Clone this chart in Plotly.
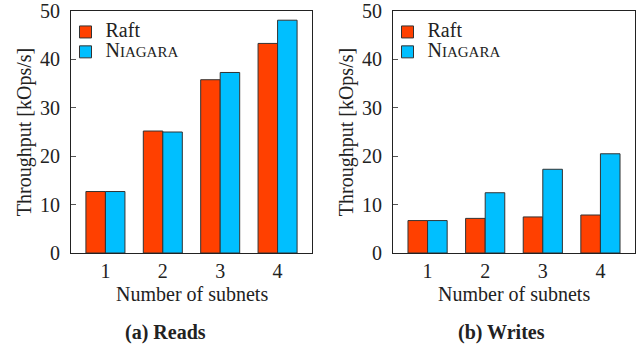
import plotly.graph_objects as go

subnets = [1, 2, 3, 4]
tick_labels = ["1", "2", "3", "4"]
reads_raft = [12.7, 25.2, 35.8, 43.3]
reads_niagara = [12.7, 25.0, 37.3, 48.1]
writes_raft = [6.7, 7.15, 7.45, 7.85]
writes_niagara = [6.7, 12.45, 17.3, 20.5]
series_names = ["<span style='font-size:20px'>Raft</span>",
                "<span style='font-size:20px'>N</span><span style='font-size:15px'>IAGARA</span>"]

RAFT_C = "#FF4000"
NIAG_C = "#00BFFF"
FONT = "Liberation Serif"
TXT = "#222222"
W, H = 641, 347

fig = go.Figure()

def add(x, y, name, color, xa, ya, legend):
    fig.add_trace(go.Bar(
        x=x, y=y, name=name, xaxis=xa, yaxis=ya, legend=legend,
        marker=dict(color=color, line=dict(color="#333333", width=1)),
        showlegend=True,
    ))

add(subnets, reads_raft, series_names[0], RAFT_C, "x", "y", "legend")
add(subnets, reads_niagara, series_names[1], NIAG_C, "x", "y", "legend")
add(subnets, writes_raft, series_names[0], RAFT_C, "x2", "y2", "legend2")
add(subnets, writes_niagara, series_names[1], NIAG_C, "x2", "y2", "legend2")

top = 1 - 11 / H
bot = 1 - 253 / H
axis_common = dict(showline=True, linecolor="#222", linewidth=1, mirror=True,
                   showgrid=False, zeroline=False, automargin=False)
xcommon = dict(axis_common, range=[0.4, 4.6], tickvals=subnets, ticktext=tick_labels,
               ticks="", tickfont=dict(size=20, color=TXT), ticklabelstandoff=0)
ycommon = dict(axis_common, range=[0, 50], dtick=10, ticks="inside", ticklen=5,
               tickcolor="#555", tickfont=dict(size=20, color=TXT), ticklabelstandoff=6,
               title=dict(text="Throughput [kOps/s]", font=dict(size=20, color=TXT), standoff=3))

legend_common = dict(font=dict(family=FONT, size=13, color=TXT), bgcolor="rgba(0,0,0,0)",
                     xanchor="left", yanchor="top", tracegroupgap=0, itemwidth=30)

xtitle_y = (253 - 294) / (253 - 11)

fig.update_layout(
    template="none",
    width=W, height=H,
    margin=dict(l=0, r=0, t=0, b=0, pad=0),
    paper_bgcolor="white", plot_bgcolor="white",
    font=dict(family=FONT, color=TXT),
    barmode="group", bargap=0.32, bargroupgap=0,
    xaxis=dict(xcommon, domain=[71 / W, 312 / W], anchor="y"),
    yaxis=dict(ycommon, domain=[bot, top], anchor="x"),
    xaxis2=dict(xcommon, domain=[393 / W, 635 / W], anchor="y2"),
    yaxis2=dict(ycommon, domain=[bot, top], anchor="x2"),
    legend=dict(legend_common, x=65.5 / W, y=1 - 17 / H),
    legend2=dict(legend_common, x=387.5 / W, y=1 - 17 / H),
    annotations=[
        dict(text="Number of subnets", x=0.5, y=xtitle_y, xref="x domain", yref="y domain",
             xanchor="center", yanchor="middle", showarrow=False,
             font=dict(size=20, family=FONT, color=TXT)),
        dict(text="Number of subnets", x=0.5, y=xtitle_y, xref="x2 domain", yref="y2 domain",
             xanchor="center", yanchor="middle", showarrow=False,
             font=dict(size=20, family=FONT, color=TXT)),
        dict(text="<b>(a) Reads</b>", x=165 / W, y=1 - 332 / H, xref="paper", yref="paper",
             xanchor="center", yanchor="middle", showarrow=False,
             font=dict(size=20, family=FONT, color=TXT)),
        dict(text="<b>(b) Writes</b>", x=501 / W, y=1 - 332 / H, xref="paper", yref="paper",
             xanchor="center", yanchor="middle", showarrow=False,
             font=dict(size=20, family=FONT, color=TXT)),
    ],
)

fig.write_html("out.html", config={"displayModeBar": False},
               post_script="document.body.style.margin='0';")
